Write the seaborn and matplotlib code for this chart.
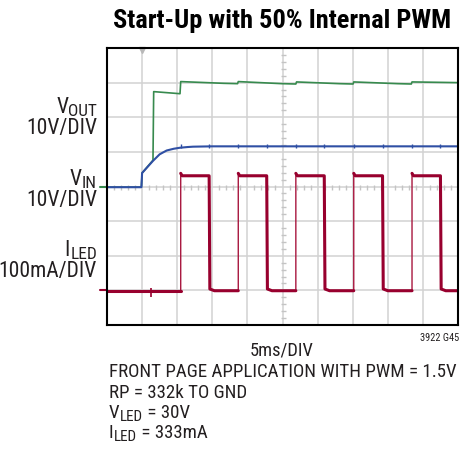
import numpy as np
import pandas as pd
import matplotlib
matplotlib.use("Agg")
import matplotlib.pyplot as plt
from matplotlib import font_manager
import seaborn as sns

# scope traces, in divisions (x: 0-10, y: 0-8)
vin_t = [0, 0.98, 1.0, 1.31, 1.5, 1.7, 1.9, 2.08, 2.3, 2.45, 3.0, 10]
vin_v = [3.98, 3.98, 4.39, 4.74, 4.93, 5.04, 5.09, 5.12, 5.14, 5.15, 5.16, 5.16]

vout_t = [0, 0.98, 1.0, 1.31, 1.33, 2.08, 2.10, 3.32, 3.72, 3.74, 4.98, 5.38, 5.40,
          6.62, 7.01, 7.03, 8.28, 8.67, 8.69, 10]
vout_v = [3.98, 3.98, 4.39, 4.76, 6.74, 6.68, 7.03, 6.98, 6.97, 7.03, 6.97, 6.96, 7.02,
          6.97, 6.96, 7.02, 6.97, 6.96, 7.02, 7.00]

pwm_rise = [2.10, 3.74, 5.38, 7.03, 8.69]
pwm_fall = [2.91, 4.55, 6.19, 7.85, 9.50]
iled_base = 0.99
iled_top = 4.31
iled_glitch_t = [1.26]

hline_minor = [i * 0.2 for i in range(51) if i % 5]
vline_minor = [i * 0.2 for i in range(41) if i % 5]

# build the LED current trace from the edge times
thin_t, thin_v = [0], [iled_base]
thick_rows = [(0, iled_base, 0), (pwm_rise[0], iled_base, 0)]
for k, (r, f) in enumerate(zip(pwm_rise, pwm_fall)):
    nxt = pwm_rise[k + 1] if k + 1 < len(pwm_rise) else 10
    pts = [(r, iled_top + 0.07), (r + 0.04, iled_top), (f, iled_top),
           (f + 0.02, iled_base + 0.05), (f + 0.15, iled_base), (nxt, iled_base)]
    thin_t += [r] + [p[0] for p in pts]
    thin_v += [iled_base] + [p[1] for p in pts]
    thick_rows += [(p[0], p[1], k + 1) for p in pts]

iled_thin = pd.DataFrame({"t": thin_t, "v": thin_v})
iled_thick = pd.DataFrame(thick_rows, columns=["t", "v", "seg"])
vin = pd.DataFrame({"t": vin_t, "v": vin_v})
vout = pd.DataFrame({"t": vout_t, "v": vout_v})

sns.set_style("white")

# pick a condensed face (Helvetica Condensed look-alike)
fonts = font_manager.fontManager.ttflist
names = {f.name for f in fonts}
narrow = next((n for n in ["Roboto Condensed", "Archivo Narrow", "PT Sans Narrow",
                           "Barlow Condensed", "Asap Condensed"] if n in names), "DejaVu Sans")


def has_bold(n):
    return any(f.name == n and f.style == "normal" and
               (f.weight == 700 or f.weight == "bold") for f in fonts)


bold_face = next((n for n in ["Roboto Condensed", "Archivo Narrow", "PT Sans Narrow",
                              "Barlow Condensed", "Asap Condensed"]
                  if n in names and has_bold(n)), narrow)

plt.rcParams["font.family"] = [narrow, "DejaVu Sans"]

fig = plt.figure(figsize=(4.72, 4.52), dpi=100)
ax = fig.add_axes([107 / 472, 1 - 326 / 452, 351 / 472, 277 / 452])

grid_c = "#d2d2d2"
ax.set_xticks(range(11))
ax.set_yticks(range(9))
ax.grid(True, color=grid_c, lw=1.1)
ax.tick_params(length=0, labelbottom=False, labelleft=False)
ax.plot(hline_minor, [4] * len(hline_minor), ls="none", marker="|", ms=3.6,
        mew=1.0, color="#c4c4c4")
ax.plot([5] * len(vline_minor), vline_minor, ls="none", marker="_", ms=3.6,
        mew=1.0, color="#c4c4c4")

red = "#98002e"
green = "#378a4e"
blue = "#2f4fa4"

sns.lineplot(data=vout, x="t", y="v", color=green, lw=1.2, sort=False,
             estimator=None, ax=ax)
sns.lineplot(data=vin, x="t", y="v", color=blue, lw=1.5, sort=False,
             estimator=None, ax=ax)
ax.vlines(pwm_rise + pwm_fall, [vin_v[-1] - 0.05] * 10, [vin_v[-1] + 0.06] * 10,
          color=blue, lw=1.0)
sns.lineplot(data=iled_thin, x="t", y="v", color="#a8163e", lw=1.0, sort=False,
             estimator=None, ax=ax)
sns.lineplot(data=iled_thick, x="t", y="v", units="seg", color=red, lw=2.2,
             sort=False, estimator=None, ax=ax)
ax.vlines(iled_glitch_t, 0.8, 1.06, color=red, lw=1.2)

ax.set_xlim(0, 10)
ax.set_ylim(0, 8)
ax.set_xlabel("")
ax.set_ylabel("")
for s in ax.spines.values():
    s.set_visible(True)
    s.set_color("black")
    s.set_linewidth(1.5)

# ground markers and trigger marker
ax.plot([-0.2, 0], [4, 4], color=green, lw=1.5, clip_on=False)
ax.plot([-0.2, 0], [1, 1], color=red, lw=1.5, clip_on=False)
ax.plot([1.0], [7.93], marker="v", ms=5, color="#b8b8b8", clip_on=False)

ink = "#231f20"
W, H = 472, 452
renderer = fig.canvas.get_renderer()


def ftext(x, y, s, **kw):
    return fig.text(x / W, 1 - y / H, s, **kw)


def chain(x, y, parts, size, align="left"):
    # parts: (text, is_subscript); subscripts are 80% size and sit 3px lower
    objs = []
    for s, sub in parts:
        fs = size * 0.8 if sub else size
        dy = 3 if sub else 0
        objs.append(ftext(0, y + dy, s, fontsize=fs, ha="left", va="baseline",
                          color=ink))
    widths = [o.get_window_extent(renderer).width for o in objs]
    cur = x - sum(widths) if align == "right" else x
    for o, w in zip(objs, widths):
        o.set_x(cur / W)
        cur += w


ftext(282, 28, "Start-Up with 50% Internal PWM", fontsize=19, weight="bold",
      family=[bold_face, "DejaVu Sans"], ha="center", va="baseline", color="black")

lab_fs = 15.5
chain(97, 113, [("V", False), ("OUT", True)], lab_fs, "right")
ftext(97, 134, "10V/DIV", fontsize=lab_fs, ha="right", va="baseline", color=ink)
chain(97, 185, [("V", False), ("IN", True)], lab_fs, "right")
ftext(97, 206, "10V/DIV", fontsize=lab_fs, ha="right", va="baseline", color=ink)
chain(97, 256, [("I", False), ("LED", True)], lab_fs, "right")
ftext(97, 277, "100mA/DIV", fontsize=lab_fs, ha="right", va="baseline", color=ink)

ftext(282, 356, "5ms/DIV", fontsize=13.3, ha="center", va="baseline", color=ink)
ftext(459, 341, "3922 G45", fontsize=7.5, ha="right", va="baseline", color=ink)

note_fs = 13.6
ftext(109, 377, "FRONT PAGE APPLICATION WITH PWM = 1.5V", fontsize=note_fs,
      ha="left", va="baseline", color=ink)
ftext(109, 398, "RP = 332k TO GND", fontsize=note_fs, ha="left", va="baseline", color=ink)
chain(109, 418, [("V", False), ("LED", True), (" = 30V", False)], note_fs)
chain(109, 438, [("I", False), ("LED", True), (" = 333mA", False)], note_fs)

fig.savefig("out.png", dpi=100)
